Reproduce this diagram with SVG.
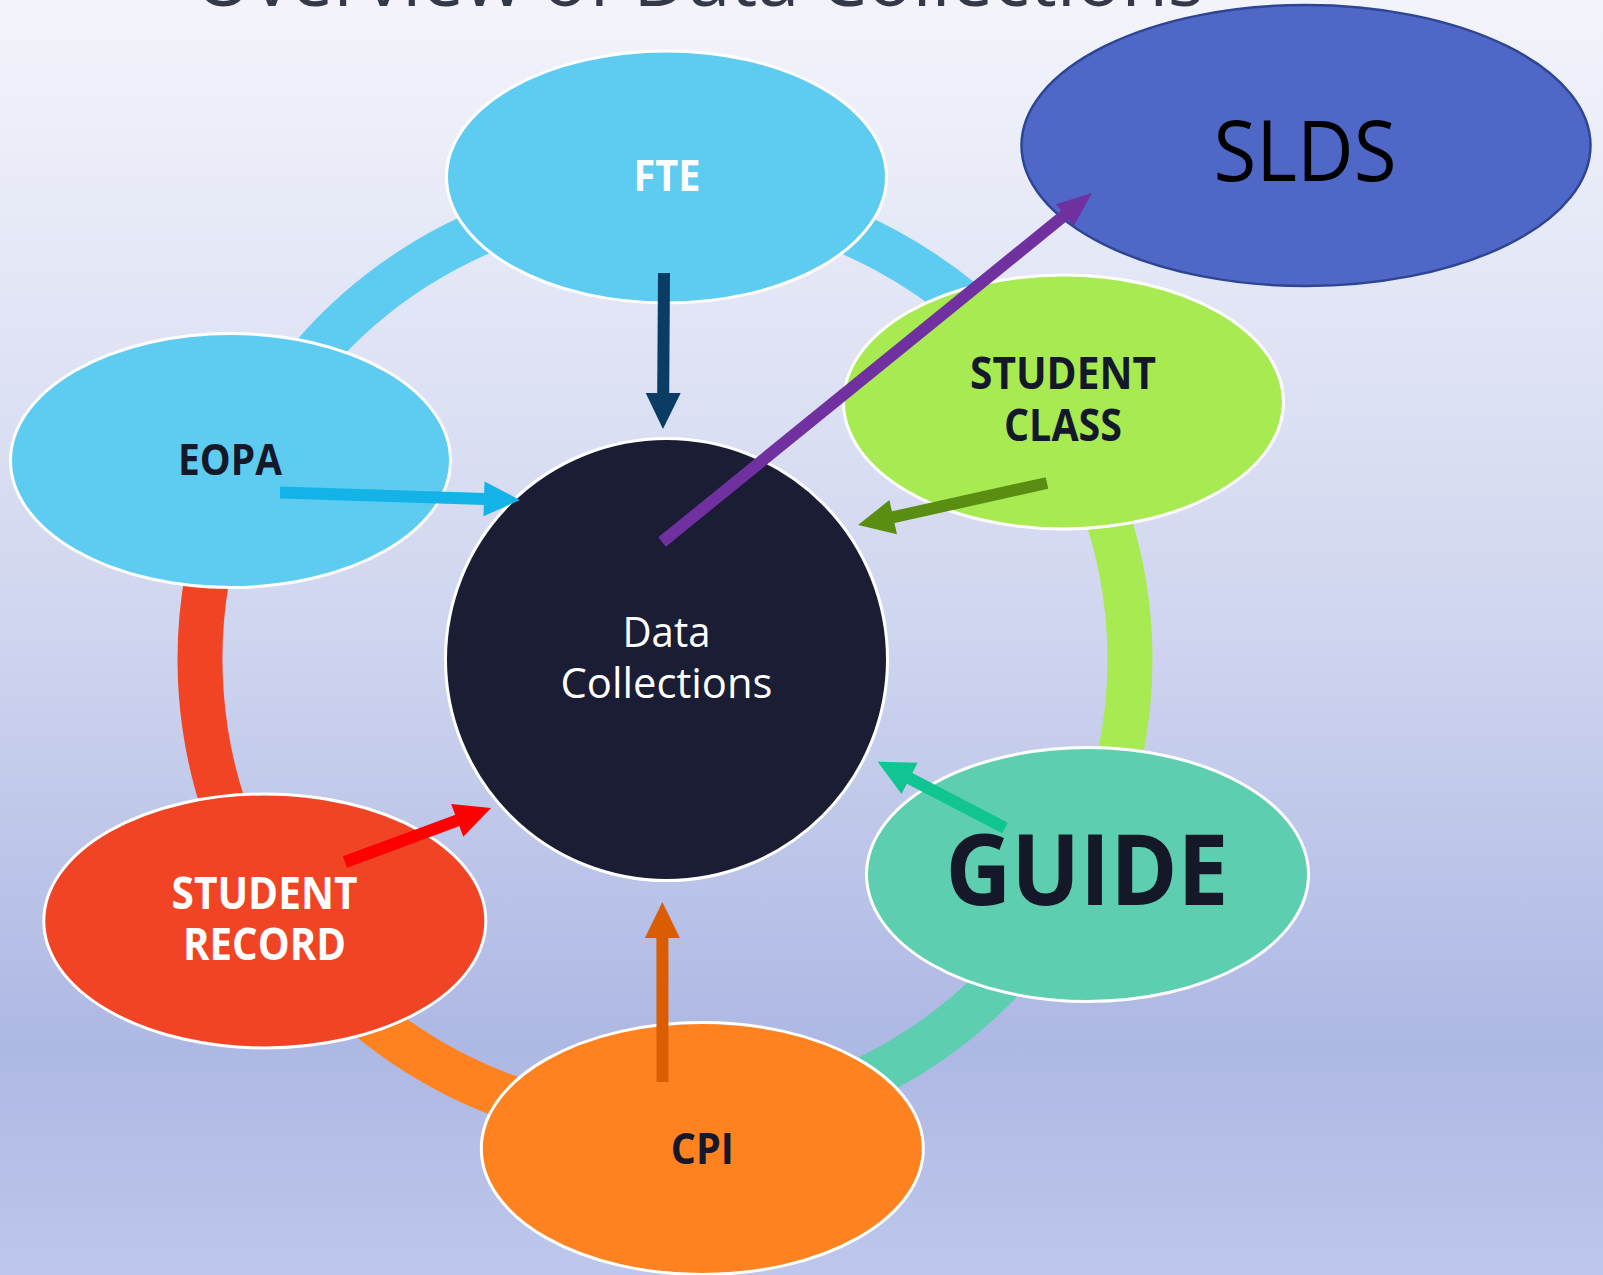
<svg xmlns="http://www.w3.org/2000/svg" width="1603" height="1275" viewBox="0 0 1603 1275">
<defs>
<linearGradient id="bg" x1="0" y1="0" x2="0" y2="1">
<stop offset="0" stop-color="#F3F4FB"/>
<stop offset="0.5" stop-color="#CFD5EF"/>
<stop offset="0.82" stop-color="#ADB8E4"/>
<stop offset="1" stop-color="#BEC7EB"/>
</linearGradient>
<marker id="hNavy" markerUnits="userSpaceOnUse" markerWidth="40" markerHeight="40" refX="0" refY="0" viewBox="-2 -20 40 40" orient="auto" overflow="visible"><path d="M-1,-17.5 L35,0 L-1,17.5 Z" fill="#0B3C63"/></marker>
<marker id="hCyan" markerUnits="userSpaceOnUse" markerWidth="40" markerHeight="40" refX="0" refY="0" viewBox="-2 -20 40 40" orient="auto" overflow="visible"><path d="M-1,-17.5 L35,0 L-1,17.5 Z" fill="#13B3E8"/></marker>
<marker id="hPurple" markerUnits="userSpaceOnUse" markerWidth="40" markerHeight="40" refX="0" refY="0" viewBox="-2 -20 40 40" orient="auto" overflow="visible"><path d="M-1,-14 L34,0 L-1,14 Z" fill="#7030A0"/></marker>
<marker id="hGreen" markerUnits="userSpaceOnUse" markerWidth="40" markerHeight="40" refX="0" refY="0" viewBox="-2 -20 40 40" orient="auto" overflow="visible"><path d="M-1,-17.5 L35,0 L-1,17.5 Z" fill="#5A8E13"/></marker>
<marker id="hRed" markerUnits="userSpaceOnUse" markerWidth="40" markerHeight="40" refX="0" refY="0" viewBox="-2 -20 40 40" orient="auto" overflow="visible"><path d="M-1,-17.5 L35,0 L-1,17.5 Z" fill="#FF0000"/></marker>
<marker id="hTeal" markerUnits="userSpaceOnUse" markerWidth="40" markerHeight="40" refX="0" refY="0" viewBox="-2 -20 40 40" orient="auto" overflow="visible"><path d="M-1,-17.5 L35,0 L-1,17.5 Z" fill="#10C591"/></marker>
<marker id="hOrange" markerUnits="userSpaceOnUse" markerWidth="40" markerHeight="40" refX="0" refY="0" viewBox="-2 -20 40 40" orient="auto" overflow="visible"><path d="M-1,-17.5 L35,0 L-1,17.5 Z" fill="#DA5D01"/></marker>
</defs>
<style>
.node { stroke: #FFFFFF; stroke-width: 3; }
.arc { fill: none; stroke-width: 45; }
.lbl { font-family: "Open Sans", "Noto Sans", "Liberation Sans", sans-serif; text-anchor: middle; }
.b { font-weight: 700; }
.dark { fill: #151829; }
.white { fill: #FFFFFF; }
.arr { fill: none; stroke-width: 12; stroke-linecap: butt; }
</style>
<rect x="0" y="0" width="1603" height="1275" fill="url(#bg)"/>
<text class="lbl" x="699" y="6" font-size="75" fill="#343949" textLength="1010" lengthAdjust="spacingAndGlyphs">Overview of Data Collections</text>

<g id="cycle-arcs">
<path class="arc" stroke="#5ECCF1" d="M665,194.5 A465,465 0 0 1 1055.4,406.9"/>
<path class="arc" stroke="#A8EA52" d="M1055.4,406.9 A465,465 0 0 1 1079.3,870.6"/>
<path class="arc" stroke="#5ECEB0" d="M1079.3,870.6 A465,465 0 0 1 700.7,1123.1"/>
<path class="arc" stroke="#FF8221" d="M700.7,1123.1 A465,465 0 0 1 275.9,914.1"/>
<path class="arc" stroke="#F04425" d="M275.9,914.1 A465,465 0 0 1 242.2,465.9"/>
<path class="arc" stroke="#5ECCF1" d="M242.2,465.9 A465,465 0 0 1 665,194.5"/>
</g>

<g id="node-fte">
<ellipse class="node" cx="666.5" cy="177" rx="220" ry="126" fill="#5ECCF1"/>
<text class="lbl b white" x="667" y="191" font-size="43" textLength="67" lengthAdjust="spacingAndGlyphs">FTE</text>
</g>
<g id="node-slds">
<ellipse cx="1306" cy="145.5" rx="284.5" ry="140.5" fill="#4F67C6" stroke="#2E4593" stroke-width="2.5"/>
<text class="lbl" x="1305" y="181" font-size="84" fill="#000000" textLength="183" lengthAdjust="spacingAndGlyphs">SLDS</text>
</g>
<g id="node-student-class">
<ellipse class="node" cx="1063.5" cy="402" rx="220" ry="127" fill="#A8EA52"/>
<text class="lbl b dark" x="1063" y="389" font-size="44" textLength="186" lengthAdjust="spacingAndGlyphs">STUDENT</text>
<text class="lbl b dark" x="1063" y="441" font-size="44" textLength="118" lengthAdjust="spacingAndGlyphs">CLASS</text>
</g>
<g id="node-eopa">
<ellipse class="node" cx="230.5" cy="460.5" rx="220" ry="127" fill="#5ECCF1"/>
<text class="lbl b dark" x="230" y="475" font-size="43" textLength="104" lengthAdjust="spacingAndGlyphs">EOPA</text>
</g>
<g id="node-guide">
<ellipse class="node" cx="1087.5" cy="874.5" rx="221" ry="127" fill="#5ECEB0"/>
<text class="lbl b dark" x="1087" y="905" font-size="99" textLength="283" lengthAdjust="spacingAndGlyphs">GUIDE</text>
</g>
<g id="node-student-record">
<ellipse class="node" cx="264.8" cy="921" rx="221" ry="127" fill="#F04425"/>
<text class="lbl b white" x="264.5" y="909" font-size="44" textLength="186" lengthAdjust="spacingAndGlyphs">STUDENT</text>
<text class="lbl b white" x="264.5" y="960" font-size="44" textLength="163" lengthAdjust="spacingAndGlyphs">RECORD</text>
</g>
<g id="node-cpi">
<ellipse class="node" cx="702.3" cy="1148.5" rx="221" ry="126" fill="#FF8221"/>
<text class="lbl b dark" x="702.3" y="1164" font-size="43" textLength="63" lengthAdjust="spacingAndGlyphs">CPI</text>
</g>
<g id="node-data-collections">
<circle cx="666.5" cy="659.5" r="221" fill="#1A1D33" stroke="#FFFFFF" stroke-width="3"/>
<text class="lbl white" x="666.5" y="647" font-size="42" textLength="88" lengthAdjust="spacingAndGlyphs">Data</text>
<text class="lbl white" x="666.5" y="698" font-size="42" textLength="212" lengthAdjust="spacingAndGlyphs">Collections</text>
</g>

<g id="connectors">
<line class="arr" stroke="#0B3C63" x1="664" y1="273" x2="663.2" y2="394" marker-end="url(#hNavy)"/>
<line class="arr" stroke="#13B3E8" x1="280" y1="492.5" x2="485" y2="498.9" marker-end="url(#hCyan)"/>
<line class="arr" stroke="#5A8E13" x1="1047" y1="483" x2="892.2" y2="517.4" marker-end="url(#hGreen)"/>
<line class="arr" stroke="#FF0000" x1="345" y1="862" x2="458.2" y2="820.1" marker-end="url(#hRed)"/>
<line class="arr" stroke="#10C591" x1="1005" y1="828" x2="908.7" y2="777.9" marker-end="url(#hTeal)"/>
<line class="arr" stroke="#DA5D01" x1="662.5" y1="1082" x2="662.4" y2="937" marker-end="url(#hOrange)"/>
<line class="arr" stroke="#7030A0" x1="662" y1="542" x2="1065.6" y2="214.4" marker-end="url(#hPurple)"/>
</g>
</svg>
